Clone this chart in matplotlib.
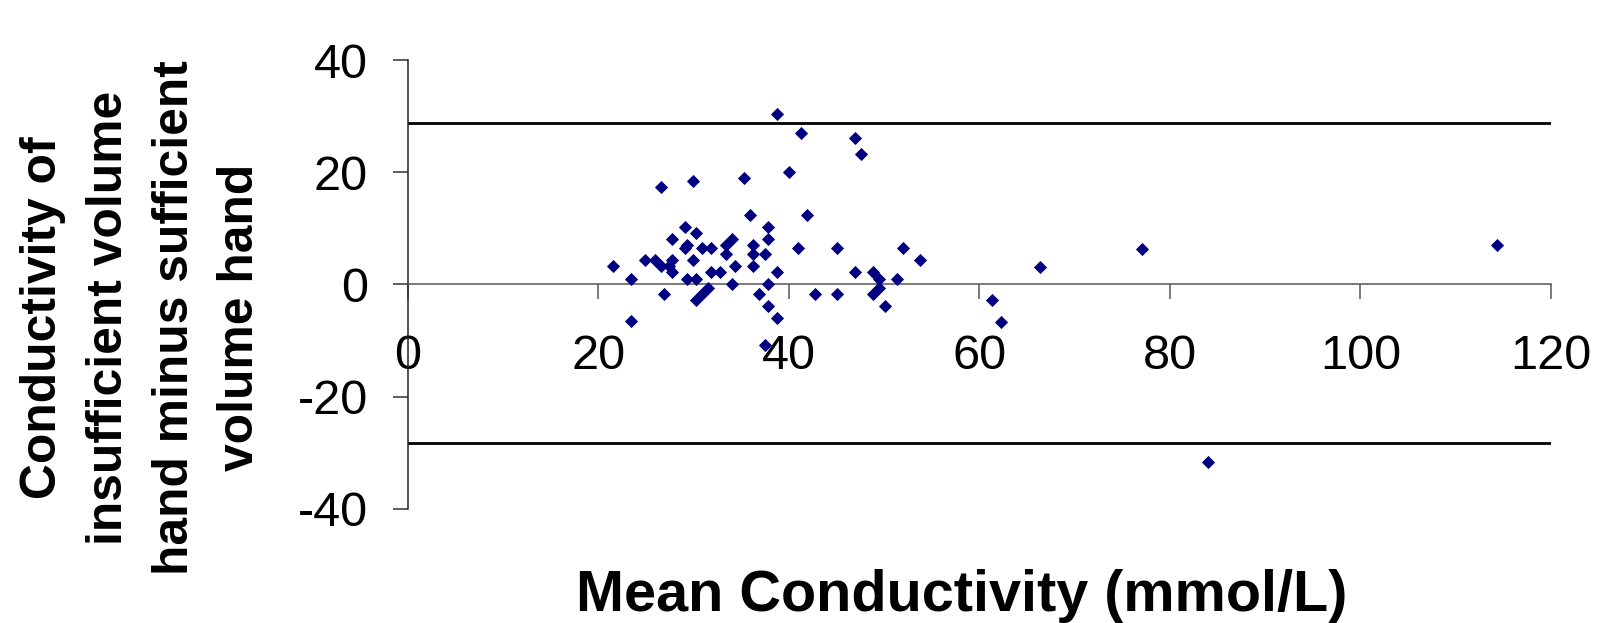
import matplotlib
matplotlib.use("Agg")
import matplotlib.pyplot as plt

plt.rcParams['font.family'] = ['Liberation Sans', 'DejaVu Sans']

# Mean conductivity (x) and difference (y)
mean_cond = [38.74, 41.33, 46.9, 47.56, 40.0, 35.31, 29.99, 26.56, 35.94, 41.86,
             29.08, 37.83, 30.27, 27.78, 34.05, 37.83, 29.36, 29.08, 30.93, 31.88,
             33.46, 36.26, 40.95, 45.01, 51.94, 33.46, 36.26, 37.52, 21.51, 24.95,
             25.93, 27.78, 29.99, 53.8, 26.56, 27.47, 27.78, 34.4, 36.26, 31.84,
             32.83, 38.77, 46.9, 48.79, 23.41, 29.36, 30.27, 49.45, 51.35, 34.05,
             37.83, 31.57, 49.45, 26.87, 30.93, 36.89, 42.8, 45.01, 48.79, 30.27,
             37.83, 50.08, 38.77, 23.41, 37.52, 61.37, 62.27, 66.37, 77.05, 83.95,
             114.3]
diff_cond = [30.4, 27.1, 26.05, 23.3, 20.1, 18.97, 18.44, 17.37, 12.43, 12.43,
             10.29, 10.29, 9.22, 8.09, 8.09, 8.09, 7.08, 6.49, 6.49, 6.49,
             7.08, 7.08, 6.49, 6.49, 6.49, 5.36, 5.36, 5.36, 3.22, 4.29,
             4.29, 4.29, 4.29, 4.29, 3.22, 3.22, 2.15, 3.22, 3.22, 2.15,
             2.15, 2.15, 2.15, 2.15, 1.02, 1.02, 1.02, 1.02, 1.02, 0.0,
             0.0, -0.59, -0.59, -1.66, -1.66, -1.66, -1.66, -1.66, -1.66, -2.73,
             -3.86, -3.86, -6.0, -6.53, -10.76, -2.78, -6.65, 3.16, 6.38, -31.6,
             6.98]
limits_of_agreement = [28.8, -28.3]
x_ticks = [0, 20, 40, 60, 80, 100, 120]
y_ticks = [-40, -20, 0, 20, 40]

fig = plt.figure(figsize=(16, 6.23), dpi=100)
ax = fig.add_axes([0.2548, 0.1835, 0.9694 - 0.2548, 0.9032 - 0.1835])
ax.set_xlim(0, 120)
ax.set_ylim(-40, 40)

for loa in limits_of_agreement:
    ax.axhline(loa, color='black', lw=2.0, zorder=2)

ax.plot(mean_cond, diff_cond, linestyle='none', marker='D', markersize=6.3,
        color='#000080', markeredgewidth=0.6, zorder=3, clip_on=False)

ax.spines['top'].set_visible(False)
ax.spines['right'].set_visible(False)
ax.spines['bottom'].set_position(('data', 0))
ax.spines['bottom'].set_color('#555555')
ax.spines['left'].set_color('#222222')
ax.spines['bottom'].set_linewidth(1.1)
ax.spines['left'].set_linewidth(1.1)

ax.set_xticks(x_ticks)
ax.set_yticks(y_ticks)
ax.set_xticklabels([str(v) for v in x_ticks])
ax.set_yticklabels([str(v) for v in y_ticks])
ax.tick_params(axis='x', direction='out', length=10.8, width=1.1, color='#555555',
               labelsize=35, pad=25)
ax.tick_params(axis='y', direction='out', length=10.8, width=1.1, color='#333333',
               labelsize=35, pad=18)

fig.text(0.0885, 0.49,
         "Conductivity of\ninsufficient volume\nhand minus sufficient\nvolume hand",
         rotation=90, ha='center', va='center', multialignment='center',
         fontsize=35.8, fontweight='bold', linespacing=1.55)
fig.text(0.601, 0.0193, "Mean Conductivity (mmol/L)", ha='center', va='baseline',
         fontsize=41.5, fontweight='bold')

fig.savefig('out.png', dpi=100)
